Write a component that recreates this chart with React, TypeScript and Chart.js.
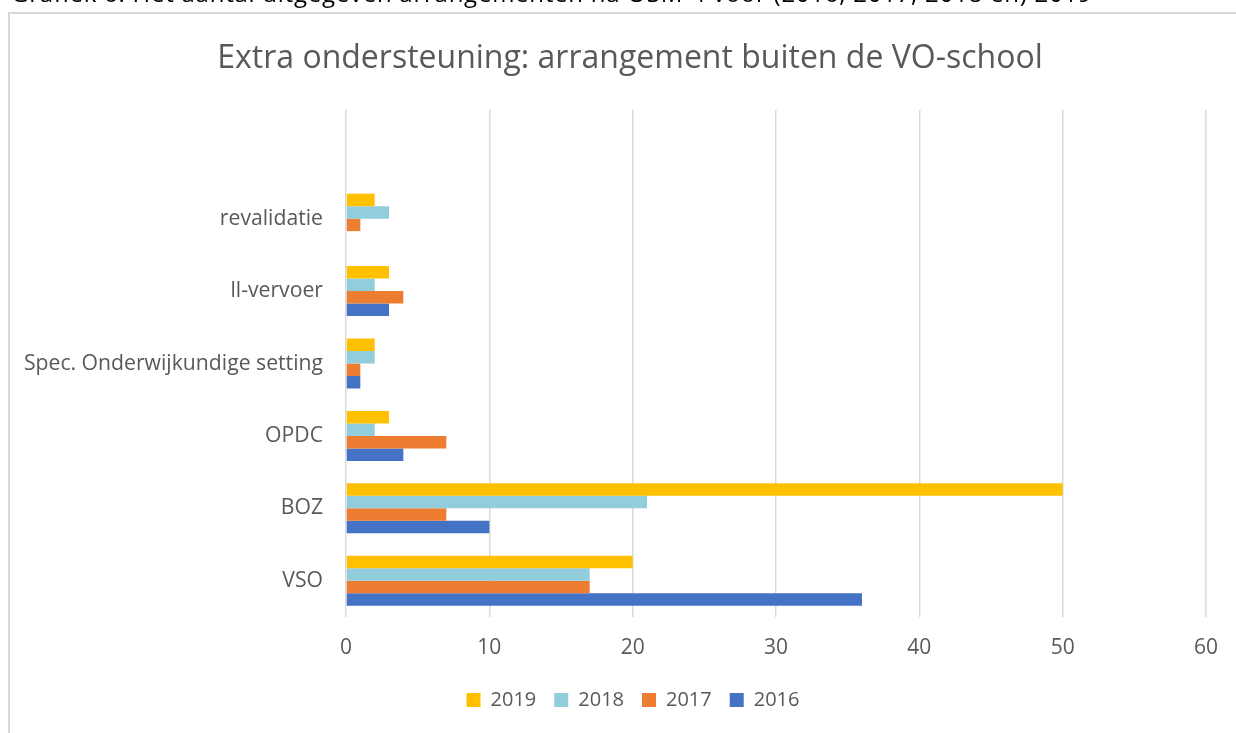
import React, { useEffect, useRef } from "react";
import { Chart, registerables } from "chart.js";

Chart.register(...registerables);

const categories = ["", "revalidatie", "ll-vervoer", "Spec. Onderwijkundige setting", "OPDC", "BOZ", "VSO"];
const years = ["2019", "2018", "2017", "2016"];
const values2019 = [null, 2, 3, 2, 3, 50, 20];
const values2018 = [null, 3, 2, 2, 2, 21, 17];
const values2017 = [null, 1, 4, 1, 7, 7, 17];
const values2016 = [null, 0, 3, 1, 4, 10, 36];
const colors = ["#FFC000", "#92CDDC", "#ED7D31", "#4472C4"];
const xTicks = [0, 10, 20, 30, 40, 50, 60];

const FONT = "'Open Sans', sans-serif";

const boxShift = {
  id: "boxShift",
  afterLayout(chart: any) {
    if (chart.legend) {
      chart.legend.left += 25;
      chart.legend.right += 25;
    }
    if (chart.titleBlock) {
      chart.titleBlock.left += 22;
      chart.titleBlock.right += 22;
    }
  },
};

export default function App() {
  const ref = useRef<HTMLCanvasElement>(null);
  useEffect(() => {
    document.documentElement.style.overflow = "hidden";
    document.body.style.overflow = "hidden";
    if (!ref.current) return;
    const series = [values2019, values2018, values2017, values2016];
    const chart = new Chart(ref.current, {
      type: "bar",
      data: {
        labels: categories,
        datasets: years.map((y, i) => ({
          label: y,
          data: series[i],
          backgroundColor: colors[i],
          borderWidth: 0,
          categoryPercentage: 0.69,
          barPercentage: 1.0,
        })),
      },
      plugins: [boxShift],
      options: {
        indexAxis: "y",
        animation: false,
        responsive: false,
        maintainAspectRatio: false,
        layout: { padding: { left: 0, right: 30, top: 0, bottom: 13 } },
        plugins: {
          title: {
            display: true,
            text: "Extra ondersteuning: arrangement buiten de VO-school",
            color: "#595959",
            font: { family: FONT, size: 32, weight: "normal" },
            padding: { top: 26, bottom: 31.6 },
          },
          legend: {
            position: "bottom",
            labels: {
              color: "#595959",
              font: { family: FONT, size: 20 },
              boxWidth: 14,
              boxHeight: 14,
              padding: 18,
            },
          },
          tooltip: { enabled: false },
        },
        scales: {
          x: {
            min: 0,
            max: 60,
            afterBuildTicks: (scale: any) => {
              scale.ticks = xTicks.map((v) => ({ value: v }));
            },
            afterFit: (scale: any) => {
              scale.height = 55;
            },
            grid: { color: "#D9D9D9", lineWidth: 1.5, drawTicks: false },
            border: { display: false },
            ticks: { color: "#595959", font: { family: FONT, size: 21 }, padding: 18 },
          },
          y: {
            grid: { display: false },
            border: { display: false },
            ticks: { color: "#595959", font: { family: FONT, size: 21.2 }, padding: 15, autoSkip: false },
            afterFit: (scale: any) => {
              scale.width = 336;
            },
          },
        },
      },
    });
    return () => chart.destroy();
  }, []);

  return (
    <div>
      <div
        style={{
          position: "fixed",
          left: 11,
          top: -23,
          whiteSpace: "nowrap",
          fontFamily: FONT,
          fontSize: 24,
          letterSpacing: "0.75px",
          lineHeight: "32px",
          color: "#000",
        }}
      >
        Grafiek 6: Het aantal uitgegeven arrangementen na OSM-4 voor (2016, 2017, 2018 en) 2019
      </div>
      <div
        style={{
          position: "fixed",
          left: 8,
          top: 12,
          width: 1236,
          height: 733,
          boxSizing: "border-box",
          borderLeft: "2px solid #D9D9D9",
          borderTop: "2px solid #D9D9D9",
          background: "#fff",
        }}
      >
        <canvas ref={ref} width={1226} height={719} style={{ display: "block" }} />
      </div>
    </div>
  );
}
